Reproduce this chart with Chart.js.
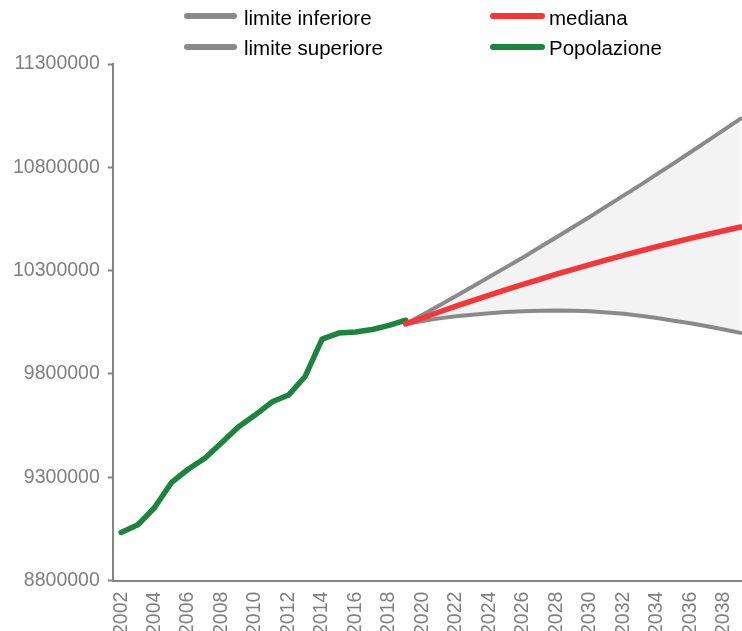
<!DOCTYPE html>
<html>
<head>
<meta charset="utf-8">
<script src="https://cdn.jsdelivr.net/npm/chart.js@4/dist/chart.umd.min.js"></script>
<style>
  html, body { margin: 0; padding: 0; background: #fff; overflow: hidden; width: 742px; height: 631px; }
  #wrap { position: relative; width: 742px; height: 631px; overflow: hidden; }
  #myChart { position: absolute; left: 0; top: 0; }
  .leg { position: absolute; font: 20.5px "Liberation Sans", Arial, sans-serif; line-height: 20px; color: #000; white-space: nowrap; }
  .sw { position: absolute; height: 6px; border-radius: 3px; }
</style>
</head>
<body>
<div id="wrap">
  <canvas id="myChart" width="750" height="646"></canvas>
  <div id="legend"></div>
</div>
<script>
var years = ['2002','2003','2004','2005','2006','2007','2008','2009','2010','2011','2012','2013',
  '2014','2015','2016','2017','2018','2019','2020','2021','2022','2023','2024','2025','2026','2027',
  '2028','2029','2030','2031','2032','2033','2034','2035','2036','2037','2038','2039'];

// popolazione osservata 2002-2019
var popolazione = [9033000, 9070000, 9154000, 9274000, 9339000, 9392000, 9467000, 9543000, 9601000,
  9664000, 9698000, 9789000, 9969000, 9998000, 10003000, 10015000, 10035000, 10060000];

// proiezioni 2019-2039
var limiteSup = [10042000, 10086000, 10131000, 10177000, 10223000, 10270000, 10317000, 10364000, 10413000,
  10462000, 10511000, 10561000, 10612000, 10663000, 10714000, 10767000, 10819000, 10873000, 10927000,
  10981000, 11036000];
var mediana = [10042000, 10071000, 10100000, 10128000, 10155000, 10182000, 10208000, 10233000, 10258000,
  10283000, 10306000, 10329000, 10352000, 10374000, 10395000, 10416000, 10436000, 10456000, 10475000,
  10493000, 10511000];
var limiteInf = [10042000, 10056000, 10069000, 10079000, 10087000, 10094000, 10100000, 10104000, 10106000,
  10107000, 10106000, 10103000, 10098000, 10091000, 10082000, 10071000, 10058000, 10045000, 10031000,
  10015000, 9999000];

var yTicks = [8800000, 9300000, 9800000, 10300000, 10800000, 11300000];

var grigio = '#8a8a8a';
var rosso = '#f53636';
var verde = '#1c843c';
var fontName = '"Liberation Sans", Arial, sans-serif';

function pad(arr) {
  return Array(years.length - arr.length).fill(null).concat(arr);
}

var ctx = document.getElementById('myChart').getContext('2d');

var myChart = new Chart(ctx, {
  type: 'line',
  data: {
    labels: years,
    datasets: [{
      label: 'limite inferiore',
      data: pad(limiteInf),
      borderColor: grigio,
      borderWidth: 4,
      order: 1
    }, {
      label: 'mediana',
      data: pad(mediana),
      borderColor: rosso,
      borderWidth: 5.5,
      order: 0
    }, {
      label: 'limite superiore',
      data: pad(limiteSup),
      borderColor: grigio,
      borderWidth: 4,
      backgroundColor: '#f3f3f3',
      fill: { target: 0 },
      order: 1
    }, {
      label: 'Popolazione',
      data: popolazione,
      borderColor: verde,
      borderWidth: 5.5,
      order: 2
    }]
  },
  options: {
    responsive: false,
    animation: false,
    devicePixelRatio: 1,
    spanGaps: false,
    elements: {
      point: { radius: 0, hoverRadius: 0 },
      line: { tension: 0, borderCapStyle: 'round', borderJoinStyle: 'round', fill: false }
    },
    layout: { padding: { left: 5, top: 64, right: 1, bottom: 0 } },
    plugins: {
      legend: { display: false },
      tooltip: { enabled: false },
      filler: { drawTime: 'beforeDatasetsDraw' }
    },
    scales: {
      x: {
        type: 'category',
        offset: true,
        grid: { display: false, drawTicks: false },
        border: { display: true, color: '#868686', width: 2 },
        afterFit: function (axis) { axis.paddingLeft = 0; axis.paddingRight = 0; },
        ticks: {
          autoSkip: false,
          minRotation: 90,
          maxRotation: 90,
          padding: 11,
          color: '#7f7f7f',
          font: { family: fontName, size: 19.5 },
          callback: function (v, i) { return i % 2 === 0 ? years[i] : ''; }
        }
      },
      y: {
        min: yTicks[0],
        max: yTicks[yTicks.length - 1],
        afterBuildTicks: function (axis) {
          axis.ticks = yTicks.map(function (v) { return { value: v }; });
        },
        grid: { drawOnChartArea: false, drawTicks: true, tickLength: 5, tickColor: '#868686', tickWidth: 2 },
        border: { display: true, color: '#868686', width: 2 },
        ticks: {
          padding: 8,
          color: '#7f7f7f',
          font: { family: fontName, size: 19.5 },
          callback: function (v) { return String(v); }
        }
      }
    }
  }
});

// legenda in due colonne
var legendPos = [
  { ds: 0, swX: 184, swW: 53, txX: 244, row: 0 },
  { ds: 1, swX: 490, swW: 55, txX: 549, row: 0 },
  { ds: 2, swX: 184, swW: 53, txX: 244, row: 1 },
  { ds: 3, swX: 490, swW: 55, txX: 549, row: 1 }
];
var rowY = [16, 46.5];
var leg = document.getElementById('legend');
legendPos.forEach(function (p) {
  var d = myChart.data.datasets[p.ds];
  var sw = document.createElement('div');
  sw.className = 'sw';
  sw.style.left = p.swX + 'px';
  sw.style.width = p.swW + 'px';
  sw.style.top = (rowY[p.row] - 3) + 'px';
  sw.style.background = d.borderColor;
  leg.appendChild(sw);
  var t = document.createElement('div');
  t.className = 'leg';
  t.style.left = p.txX + 'px';
  t.style.top = (rowY[p.row] - 8.5) + 'px';
  t.textContent = d.label;
  leg.appendChild(t);
});
</script>
</body>
</html>
